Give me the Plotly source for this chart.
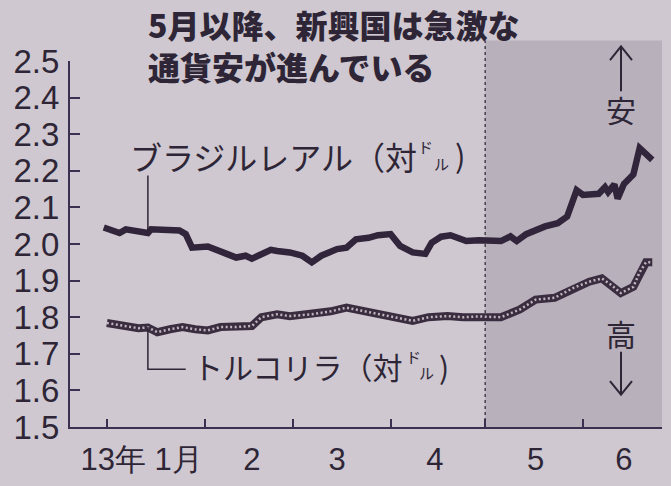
import plotly.graph_objects as go

# ---------------- data ----------------
brl_dates = ["2012-12-31", "2013-01-05", "2013-01-07", "2013-01-11", "2013-01-14", "2013-01-15",
             "2013-01-24", "2013-01-26", "2013-01-28", "2013-02-02", "2013-02-05", "2013-02-08",
             "2013-02-11", "2013-02-14", "2013-02-16", "2013-02-19", "2013-02-22", "2013-02-24",
             "2013-02-28", "2013-03-04", "2013-03-07", "2013-03-10", "2013-03-15", "2013-03-18",
             "2013-03-21", "2013-03-25", "2013-03-28", "2013-04-01", "2013-04-04", "2013-04-08",
             "2013-04-12", "2013-04-14", "2013-04-17", "2013-04-20", "2013-04-25", "2013-04-29",
             "2013-05-06", "2013-05-09", "2013-05-11", "2013-05-14", "2013-05-20", "2013-05-24",
             "2013-05-27", "2013-05-30", "2013-06-01", "2013-06-06", "2013-06-08", "2013-06-09",
             "2013-06-11", "2013-06-12", "2013-06-14", "2013-06-17", "2013-06-19", "2013-06-23"]
brl_values = [2.045, 2.030, 2.040, 2.032, 2.030, 2.040,
              2.037, 2.027, 1.990, 1.993, 1.981, 1.973,
              1.963, 1.968, 1.960, 1.973, 1.984, 1.981,
              1.977, 1.968, 1.950, 1.968, 1.986, 1.990,
              2.013, 2.017, 2.024, 2.027, 1.995, 1.977,
              1.973, 2.003, 2.020, 2.024, 2.008, 2.010,
              2.008, 2.021, 2.008, 2.027, 2.048, 2.057,
              2.075, 2.147, 2.134, 2.137, 2.155, 2.142,
              2.163, 2.124, 2.164, 2.190, 2.262, 2.230]

try_dates = ["2013-01-01", "2013-01-06", "2013-01-11", "2013-01-14", "2013-01-17", "2013-01-21",
             "2013-01-25", "2013-01-29", "2013-02-02", "2013-02-06", "2013-02-11", "2013-02-16",
             "2013-02-19", "2013-02-24", "2013-02-28", "2013-03-07", "2013-03-13", "2013-03-18",
             "2013-03-21", "2013-03-25", "2013-03-30", "2013-04-05", "2013-04-08", "2013-04-13",
             "2013-04-19", "2013-04-24", "2013-04-29", "2013-05-06", "2013-05-12", "2013-05-17",
             "2013-05-23", "2013-05-29", "2013-06-03", "2013-06-07", "2013-06-10", "2013-06-13",
             "2013-06-17", "2013-06-19", "2013-06-21", "2013-06-23"]
try_values = [1.784, 1.776, 1.770, 1.772, 1.759, 1.767,
              1.773, 1.767, 1.764, 1.773, 1.773, 1.776,
              1.800, 1.808, 1.803, 1.808, 1.816, 1.826,
              1.821, 1.813, 1.805, 1.794, 1.790, 1.800,
              1.803, 1.800, 1.802, 1.800, 1.821, 1.848,
              1.853, 1.880, 1.897, 1.906, 1.888, 1.866,
              1.883, 1.923, 1.950, 1.950]

y_ticks = [1.5, 1.6, 1.7, 1.8, 1.9, 2.0, 2.1, 2.2, 2.3, 2.4, 2.5]
month_starts = ["2013-01-01", "2013-02-01", "2013-03-01", "2013-04-01", "2013-05-01", "2013-06-01"]
month_label_pos = ["2013-01-12", "2013-02-16", "2013-03-15", "2013-04-15", "2013-05-17", "2013-06-14"]
month_labels = ["13年 1月", "2", "3", "4", "5", "6"]
x_range = ["2012-12-20 07:00", "2013-06-26 02:00"]

title_lines = ["5月以降、新興国は急激な", "通貨安が進んでいる"]
brl_name = "ブラジルレアル（対"
try_name = "トルコリラ（対"

# ---------------- style ----------------
W, H = 671, 486
ML, MR, MT, MB = 70, 9, 61, 51
BG = "#cfc8d0"
SHADE = "#b8b0bb"
INK = "#2e2636"
AXIS = "#3a3150"
NUM_FONT = "Liberation Sans Narrow, Arial Narrow, Liberation Sans, sans-serif"
CJK = "Noto Sans CJK JP"

pw, ph = W - ML - MR, H - MT - MB


def px(x):
    return (x - ML) / pw


def py(y):
    return (H - MB - y) / ph


fig = go.Figure()

# Turkish lira: beaded line (dark outline with light dots)
fig.add_trace(go.Scatter(x=try_dates, y=try_values, mode="lines",
                         line=dict(color="#3a2d40", width=8), hoverinfo="skip"))
fig.add_trace(go.Scatter(x=try_dates, y=try_values, mode="lines",
                         line=dict(color="#bfb5bd", width=2.5, dash="2px,2.5px"), hoverinfo="skip"))
# Brazilian real
fig.add_trace(go.Scatter(x=brl_dates, y=brl_values, mode="lines",
                         line=dict(color="#30253a", width=6.5), hoverinfo="skip"))

shapes = [
    # shaded period since May
    dict(type="rect", xref="x", yref="paper", x0=month_starts[4], x1=x_range[1], y0=0, y1=py(40),
         fillcolor=SHADE, line=dict(width=0), layer="below"),
    dict(type="line", xref="x", yref="paper", x0=month_starts[4], x1=month_starts[4], y0=0, y1=py(40),
         line=dict(color="#4a4050", width=1.5, dash="dot"), layer="below"),
    # leaders
    dict(type="line", xref="x", yref="y", x0="2013-01-14", x1="2013-01-14", y0=2.033, y1=2.187,
         line=dict(color=INK, width=1.5)),
    dict(type="path", xref="x", yref="y",
         path="M 2013-01-14,1.773 L 2013-01-14,1.658 L 2013-01-26,1.658",
         line=dict(color=INK, width=1.5)),
]


def arrow(x, ytail, yhead, arm=11, back=14):
    d = 1 if yhead > ytail else -1  # pixel direction of head
    shapes.append(dict(type="line", xref="paper", yref="paper",
                       x0=px(x), x1=px(x), y0=py(ytail), y1=py(yhead),
                       line=dict(color=INK, width=2)))
    shapes.append(dict(type="path", xref="paper", yref="paper",
                       path=f"M {px(x - arm)},{py(yhead - d * back)} L {px(x)},{py(yhead)} "
                            f"L {px(x + arm)},{py(yhead - d * back)}",
                       line=dict(color=INK, width=2)))


arrow(621, 92, 46)
arrow(621, 358, 402)

ann = []
ann.append(dict(text="<br>".join(title_lines), xref="paper", yref="paper", x=px(146), y=py(45),
                xanchor="left", yanchor="middle", align="left", showarrow=False,
                font=dict(family=CJK, size=32, color=INK, weight=900)))

# series labels
ann.append(dict(text=brl_name, xref="paper", yref="paper", x=px(128), y=py(158),
                xanchor="left", yanchor="middle", showarrow=False,
                font=dict(family=CJK, size=32, color=INK)))
ann.append(dict(text="ド", xref="paper", yref="paper", x=px(425), y=py(148),
                xanchor="center", yanchor="middle", showarrow=False,
                font=dict(family=CJK, size=15, color=INK)))
ann.append(dict(text="ル", xref="paper", yref="paper", x=px(441), y=py(166),
                xanchor="center", yanchor="middle", showarrow=False,
                font=dict(family=CJK, size=15, color=INK)))
ann.append(dict(text=")", xref="paper", yref="paper", x=px(460), y=py(157),
                xanchor="center", yanchor="middle", showarrow=False,
                font=dict(family=CJK, size=31, color=INK)))

ann.append(dict(text=try_name, xref="paper", yref="paper", x=px(191), y=py(373),
                xanchor="left", yanchor="middle", showarrow=False,
                font=dict(family=CJK, size=30, color=INK)))
ann.append(dict(text="ド", xref="paper", yref="paper", x=px(413), y=py(363),
                xanchor="center", yanchor="middle", showarrow=False,
                font=dict(family=CJK, size=15, color=INK)))
ann.append(dict(text="ル", xref="paper", yref="paper", x=px(426), y=py(379),
                xanchor="center", yanchor="middle", showarrow=False,
                font=dict(family=CJK, size=15, color=INK)))
ann.append(dict(text=")", xref="paper", yref="paper", x=px(444), y=py(373),
                xanchor="center", yanchor="middle", showarrow=False,
                font=dict(family=CJK, size=30, color=INK)))

# right-side direction words
for t, y in [("安", 110), ("高", 339)]:
    ann.append(dict(text=t, xref="paper", yref="paper", x=px(621), y=py(y),
                    xanchor="center", yanchor="middle", showarrow=False,
                    font=dict(family=CJK, size=30, color=INK)))

fig.update_layout(
    width=W, height=H,
    margin=dict(l=ML, r=MR, t=MT, b=MB, pad=0),
    paper_bgcolor=BG, plot_bgcolor=BG,
    showlegend=False,
    shapes=shapes, annotations=ann,
    xaxis=dict(type="date", range=x_range,
               tickmode="array", tickvals=month_label_pos, ticktext=month_labels,
               ticks="", showgrid=False, zeroline=False,
               showline=True, linecolor=AXIS, linewidth=2,
               tickfont=dict(family=NUM_FONT, size=31, color=INK),
               ticklabelstandoff=4,
               minor=dict(tickmode="array", tickvals=month_starts, ticks="inside",
                          ticklen=8, tickwidth=1.5, tickcolor=AXIS, showgrid=False)),
    yaxis=dict(range=[1.5, 2.5], tickmode="array", tickvals=y_ticks,
               ticktext=[f"{v:.1f}" for v in y_ticks],
               ticks="inside", ticklen=10, tickwidth=1.5, tickcolor=AXIS,
               showgrid=False, zeroline=False,
               showline=True, linecolor=AXIS, linewidth=2,
               tickfont=dict(family=NUM_FONT, size=33, color=INK),
               ticklabelstandoff=2),
)

fig.write_html("out.html")
